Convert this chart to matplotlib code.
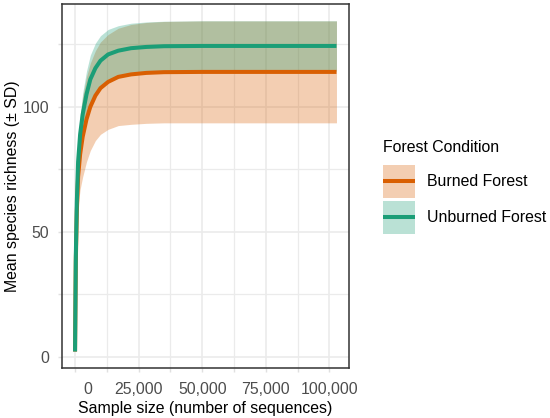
import numpy as np
import matplotlib
matplotlib.use("Agg")
import matplotlib.pyplot as plt
import matplotlib.transforms as mtransforms
from matplotlib.patches import Rectangle
from matplotlib.lines import Line2D
from matplotlib.legend_handler import HandlerBase

plt.rcParams["font.family"] = ["Liberation Sans", "DejaVu Sans"]

# data (rarefaction curves, mean +/- SD)
sample_size = [1, 300, 700, 1200, 2000, 3000, 4500, 6000, 8000, 10000,
               13000, 17000, 22000, 28000, 35000, 50000, 75000, 102800]
burned_mean = [2, 38, 58, 72, 81, 88, 95, 100, 104.5, 107.5,
               110, 112, 113, 113.6, 113.9, 114, 114, 114]
burned_sd = [0, 5, 9, 12, 14, 16, 17, 17.5, 18, 18.5,
             19, 19.5, 20, 20.2, 20.3, 20.4, 20.4, 20.4]
unburned_mean = [2, 40, 62, 78, 89, 97, 105, 111, 115.5, 118.5,
                 121, 122.5, 123.5, 124, 124.3, 124.4, 124.4, 124.4]
unburned_sd = [0, 3, 5, 6.5, 7.5, 8.5, 9.3, 9.7, 10, 10,
               10, 10, 10, 10, 10, 10.1, 10.1, 10.1]

groups = ["Burned Forest", "Unburned Forest"]
colors = ["#D95F02", "#1B9E77"]
x_breaks = [0, 25000, 50000, 75000, 100000]
x_labels = ["0", "25,000", "50,000", "75,000", "100,000"]
y_breaks = [0, 50, 100]

FILL_ALPHA = 0.3
LW = 2.9


class RibbonKey(HandlerBase):
    # ggplot style key: filled square with the line through its middle
    def create_artists(self, legend, orig_handle, xdescent, ydescent,
                       width, height, fontsize, trans):
        c = orig_handle.get_color()
        rect = Rectangle((-xdescent, -ydescent), width, height,
                         facecolor=c, alpha=FILL_ALPHA, edgecolor="none",
                         transform=trans)
        yc = -ydescent + height / 2
        line = Line2D([-xdescent, -xdescent + width], [yc, yc], color=c,
                      lw=LW, solid_capstyle="butt", transform=trans)
        return [rect, line]


x = np.array(sample_size)
means = [np.array(burned_mean), np.array(unburned_mean)]
sds = [np.array(burned_sd), np.array(unburned_sd)]

fig = plt.figure(figsize=(5.5, 4.18), dpi=100)
ax = fig.add_axes([62/550, 1-368/418, (349-62)/550, (368-4)/418])

for m, s, c in zip(means, sds, colors):
    ax.fill_between(x, m - s, m + s, color=c, alpha=FILL_ALPHA, linewidth=0)
for m, c in zip(means, colors):
    ax.plot(x, m, color=c, lw=LW, solid_capstyle="butt")

ax.set_xlim(-5130, 107730)
ax.set_ylim(-4.6, 141.2)
ax.set_xticks(x_breaks)
ax.set_xticklabels(x_labels)
ax.set_xticks([12500, 37500, 62500, 87500], minor=True)
ax.set_yticks(y_breaks)
ax.set_yticks([25, 75, 125], minor=True)

ax.grid(which="major", color="#EBEBEB", lw=1.2)
ax.grid(which="minor", color="#EBEBEB", lw=0.9)
ax.set_axisbelow(True)
for sp in ax.spines.values():
    sp.set_color("#333333")
    sp.set_linewidth(1.1)

ax.tick_params(which="both", length=3, width=1.0, color="#E0E0E0",
               labelcolor="#4D4D4D", labelsize=11.4)
ax.tick_params(axis="x", which="both", pad=7)
ax.tick_params(axis="y", which="both", pad=6)

# the "0" label sits a bit right of its tick in the reference
off = mtransforms.ScaledTranslation(0.13, 0, fig.dpi_scale_trans)
lab0 = ax.xaxis.get_major_ticks()[0].label1
lab0.set_transform(lab0.get_transform() + off)

ax.set_xlabel("Sample size (number of sequences)", fontsize=11.4, labelpad=3)
ax.set_ylabel("Mean species richness (\u00b1 SD)", fontsize=11.4, labelpad=2)

handles = [Line2D([], [], color=c, lw=LW) for c in colors]
leg = fig.legend(handles, groups, title="Forest Condition",
                 handler_map={Line2D: RibbonKey()},
                 loc="center left", bbox_to_anchor=(383/550, 1-187/418),
                 frameon=False, fontsize=11.4, title_fontsize=11.4,
                 handlelength=2.0, handleheight=2.84, labelspacing=0.18,
                 handletextpad=0.8, borderpad=0, borderaxespad=0,
                 alignment="left")
leg._legend_box.sep = 7

fig.savefig("out.png", dpi=100)
